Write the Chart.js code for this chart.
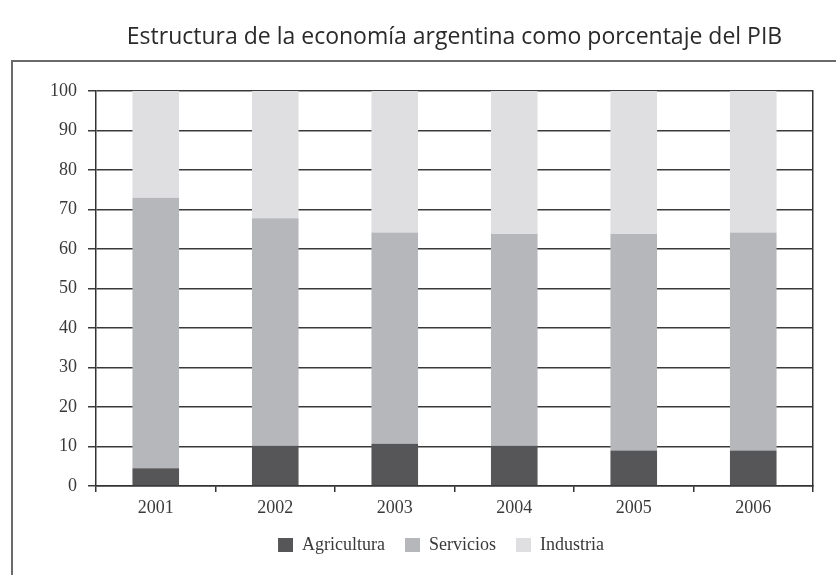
<!DOCTYPE html>
<html>
<head>
<meta charset="utf-8">
<script src="https://cdn.jsdelivr.net/npm/chart.js@4.4.0/dist/chart.umd.min.js"></script>
<style>
  html, body { margin: 0; padding: 0; background: #fff; }
  #wrap { position: relative; width: 836px; height: 575px; overflow: hidden; }
  #frame { position: absolute; left: 11px; top: 60px; width: 900px; height: 600px;
           border-left: 2px solid #6a6a6a; border-top: 2px solid #6a6a6a; box-sizing: border-box; }
  canvas { position: absolute; left: 0; top: 0; }
</style>
</head>
<body>
<div id="wrap">
  <div id="frame"></div>
  <canvas id="c" width="836" height="575"></canvas>
</div>
<script>
const titleText = 'Estructura de la economía argentina como porcentaje del PIB';
const years = ['2001', '2002', '2003', '2004', '2005', '2006'];
const agricultura = [4.5, 10.2, 10.7, 10.2, 9.0, 9.0];
const servicios = [68.5, 57.6, 53.5, 53.6, 54.8, 55.2];
const industria = [27.0, 32.2, 35.8, 36.2, 36.2, 35.8];
const yTicks = [0, 10, 20, 30, 40, 50, 60, 70, 80, 90, 100];

const serif = '"Liberation Serif", "DejaVu Serif", serif';
const ink = '#3a3a3a';

const ds = (label, data, color) => ({
  label, data, backgroundColor: color, borderWidth: 0,
  barPercentage: 0.39, categoryPercentage: 1.0
});

new Chart(document.getElementById('c'), {
  type: 'bar',
  data: {
    labels: years,
    datasets: [
      ds('Agricultura', agricultura, '#565658'),
      ds('Servicios', servicios, '#b6b7ba'),
      ds('Industria', industria, '#dfdfe1')
    ]
  },
  options: {
    responsive: false,
    animation: false,
    devicePixelRatio: 1,
    layout: { padding: { left: 46, right: 0, top: 0, bottom: 11 } },
    plugins: {
      title: {
        display: true, text: titleText, color: '#2a2a2a', fullSize: false,
        font: { family: '"Open Sans", "Noto Sans", sans-serif', size: 23, weight: 'normal' },
        padding: { top: 24, bottom: 39.4 }
      },
      legend: {
        position: 'bottom',
        labels: {
          color: ink, boxWidth: 15, boxHeight: 14, padding: 20,
          font: { family: serif, size: 18 }
        }
      },
      tooltip: { enabled: false }
    },
    scales: {
      x: {
        stacked: true,
        afterFit: s => { s.height = 30; },
        grid: { offset: true, drawOnChartArea: false, drawTicks: true, tickLength: 6, color: '#333', lineWidth: 1.5 },
        border: { display: true, color: '#333', width: 1.5 },
        ticks: { color: ink, padding: 5, font: { family: serif, size: 18 } }
      },
      y: {
        stacked: true, min: 0, max: 100,
        afterFit: s => { s.width = 50; },
        afterBuildTicks: s => { s.ticks = yTicks.map(v => ({ value: v })); },
        grid: { color: '#3a3a3a', lineWidth: 1.5, tickLength: 8 },
        border: { display: true, color: '#333', width: 1.5 },
        ticks: { color: ink, padding: 11, font: { family: serif, size: 18 } }
      },
      y2: {
        position: 'right', min: 0, max: 100,
        afterFit: s => { s.width = 23; },
        grid: { display: false },
        border: { display: true, color: '#333', width: 1.5 },
        ticks: { display: false }
      }
    }
  }
});
</script>
</body>
</html>
